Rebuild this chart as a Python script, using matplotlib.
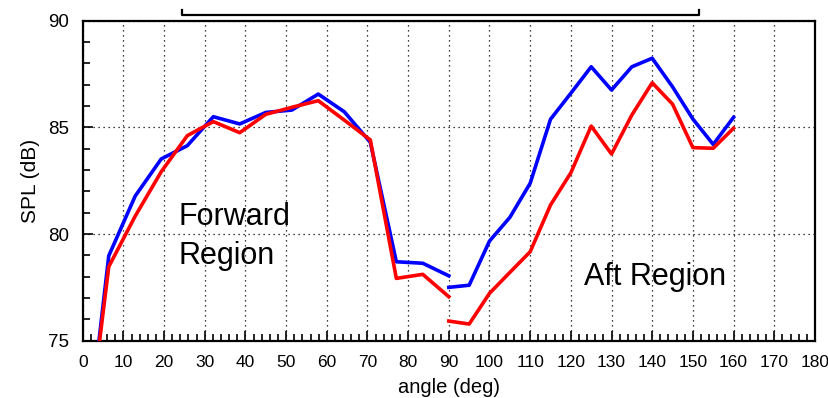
import matplotlib
matplotlib.use('Agg')
import matplotlib.pyplot as plt
from matplotlib.ticker import MultipleLocator

plt.rcParams['font.family'] = ['Liberation Sans', 'DejaVu Sans']

# forward region (0..90 deg)
fwd_angle = [0, 6.4, 12.9, 19.3, 25.7, 32.1, 38.6, 45.0, 51.4, 57.9, 64.3, 70.7, 77.1, 83.6, 90.0]
fwd_blue = [68.4, 78.98, 81.78, 83.52, 84.14, 85.50, 85.16, 85.70, 85.81, 86.56, 85.73, 84.30, 78.70, 78.63, 78.04]
fwd_red = [68.6, 78.47, 80.84, 82.92, 84.61, 85.27, 84.75, 85.61, 85.94, 86.25, 85.34, 84.41, 77.92, 78.11, 77.06]

# aft region (90..160 deg)
aft_angle = [90, 95, 100, 105, 110, 115, 120, 125, 130, 135, 140, 145, 150, 155, 160]
aft_blue = [77.50, 77.60, 79.67, 80.78, 82.38, 85.38, 86.60, 87.84, 86.75, 87.84, 88.24, 86.90, 85.39, 84.20, 85.47]
aft_red = [75.92, 75.78, 77.22, 78.20, 79.17, 81.36, 82.87, 85.06, 83.75, 85.58, 87.09, 86.09, 84.05, 84.02, 84.96]

bracket_x = [24.3, 151.6]
bracket_y = [90.5, 90.25]

fig = plt.figure(figsize=(8.29, 3.98), dpi=100)
ax = fig.add_axes([0.0998, 0.144, 0.8832, 0.804])

ax.plot(fwd_angle, fwd_blue, color='#0000ff', lw=2.6, zorder=3)
ax.plot(aft_angle, aft_blue, color='#0000ff', lw=2.6, zorder=3)
ax.plot(fwd_angle, fwd_red, color='#ff0000', lw=2.6, zorder=4)
ax.plot(aft_angle, aft_red, color='#ff0000', lw=2.6, zorder=4)

ax.set_xlim(0, 180)
ax.set_ylim(75, 90)
ax.xaxis.set_major_locator(MultipleLocator(10))
ax.xaxis.set_minor_locator(MultipleLocator(2))
ax.yaxis.set_major_locator(MultipleLocator(5))
ax.yaxis.set_minor_locator(MultipleLocator(1))
ax.tick_params(which='both', direction='in', top=False, right=False, width=1.2)
ax.tick_params(which='major', length=7, pad=10)
ax.tick_params(which='minor', length=5)
ax.tick_params(axis='x', labelsize=12.5)
ax.tick_params(axis='y', labelsize=13.5)
ax.grid(True, which='major', color='black', linestyle=(0, (1, 3)), linewidth=0.9)

for s in ax.spines.values():
    s.set_linewidth(1.6)

ax.set_xlabel('angle (deg)', fontsize=14.5)
ax.set_ylabel('SPL (dB)', fontsize=15)
ax.xaxis.set_label_coords(0.5, -0.118)
ax.yaxis.set_label_coords(-0.058, 0.5)

ax.text(23.5, 80.42, 'Forward', fontsize=22, va='baseline')
ax.text(23.5, 78.59, 'Region', fontsize=22, va='baseline')
ax.text(123.3, 77.6, 'Aft Region', fontsize=22, va='baseline')

# bracket above the plot
ax.plot([bracket_x[0], bracket_x[0], bracket_x[1], bracket_x[1]],
        [bracket_y[0], bracket_y[1], bracket_y[1], bracket_y[0]],
        color='black', lw=1.6, clip_on=False)

fig.savefig('out.png', dpi=100)
